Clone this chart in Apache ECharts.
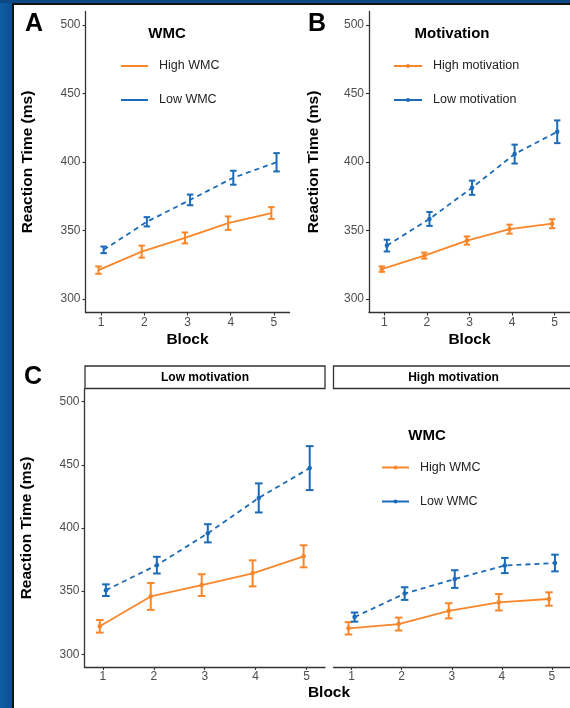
<!DOCTYPE html>
<html>
<head>
<meta charset="utf-8">
<script src="https://cdn.jsdelivr.net/npm/echarts@6/dist/echarts.min.js"></script>
<style>
html,body{margin:0;padding:0;width:570px;height:708px;overflow:hidden;}
body{background:linear-gradient(90deg,#0f5ea6 0px,#0b4f8f 12px);position:relative;}
#topband{position:absolute;left:0;top:0;width:570px;height:3px;background:#0b4a85;}
#paper{position:absolute;left:12px;top:3px;width:600px;height:720px;background:#fff;border-left:2.5px solid #111;border-top:2px solid #111;box-sizing:border-box;}
#chart{position:absolute;left:0;top:0;width:570px;height:708px;}
</style>
</head>
<body>
<div id="topband"></div>
<div id="paper"></div>
<div id="chart"></div>
<script>
// ---------- data ----------
const blocks = [1, 2, 3, 4, 5];
const yTicks = [300, 350, 400, 450, 500];

// Panel A (WMC)
const aHighWMC   = [321.0, 334.5, 344.5, 355.3, 362.7];
const aHighWMCse = [2.7, 4.4, 4.0, 4.9, 4.3];
const aLowWMC    = [335.8, 356.3, 372.3, 388.5, 399.8];
const aLowWMCse  = [2.4, 3.4, 3.9, 5.1, 6.7];

// Panel B (Motivation)
const bHighMot   = [321.7, 331.6, 342.6, 350.9, 354.9];
const bHighMotSe = [2.0, 2.2, 3.0, 3.3, 3.3];
const bLowMot    = [338.9, 358.4, 381.2, 405.8, 422.1];
const bLowMotSe  = [4.3, 5.1, 5.2, 6.9, 8.3];

// Panel C, Low motivation facet
const cLowHighWMC   = [322.2, 345.8, 354.8, 364.1, 377.6];
const cLowHighWMCse = [5.0, 10.6, 8.6, 10.3, 8.7];
const cLowLowWMC    = [350.8, 370.6, 395.8, 423.8, 447.4];
const cLowLowWMCse  = [4.6, 6.6, 7.2, 11.5, 17.4];

// Panel C, High motivation facet
const cHighHighWMC   = [320.6, 324.0, 334.5, 341.2, 343.8];
const cHighHighWMCse = [4.9, 5.1, 6.0, 6.5, 5.3];
const cHighLowWMC    = [329.5, 348.1, 359.6, 370.3, 372.3];
const cHighLowWMCse  = [3.6, 5.0, 7.0, 6.0, 6.6];

// ---------- style ----------
const ORANGE = '#F8862A';
const BLUE = '#1B6BB8';
const FONT = '"Liberation Sans", Arial, Helvetica, sans-serif';
const DODGE = 0.06;
const CAP = 0.15;

const grids = [
  {left: 85.5, top: 11.5, width: 204, height: 301},   // A
  {left: 369,  top: 11.5, width: 205, height: 301},   // B
  {left: 84.5, top: 389,  width: 240.5, height: 278}, // C low
  {left: 333.5,top: 389,  width: 240.5, height: 278}  // C high
];

function xAxisFor(gi, name) {
  return {
    type: 'value', gridIndex: gi, min: 0.64, max: 5.36,
    axisLine: {show: true, onZero: false, lineStyle: {color: '#333', width: 1.3}},
    axisTick: {show: true, length: 3, customValues: blocks, lineStyle: {color: '#333', width: 1.1}},
    axisLabel: {customValues: blocks, color: '#4d4d4d', fontSize: 12, margin: 4, fontFamily: FONT},
    splitLine: {show: false},
    name: name, nameLocation: 'middle', nameGap: 19,
    nameTextStyle: {fontWeight: 'bold', fontSize: 15.5, color: '#000', fontFamily: FONT}
  };
}
function yAxisFor(gi, show, gap) {
  return {
    type: 'value', gridIndex: gi, min: 290, max: 510, show: show,
    axisLine: {show: true, onZero: false, lineStyle: {color: '#333', width: 1.3}},
    axisTick: {show: true, length: 3, customValues: yTicks, lineStyle: {color: '#333', width: 1.1}},
    axisLabel: {customValues: yTicks, color: '#4d4d4d', fontSize: 12, margin: 5, fontFamily: FONT},
    splitLine: {show: false},
    name: show ? 'Reaction Time (ms)' : '', nameLocation: 'middle', nameGap: gap, nameRotate: 90,
    nameTextStyle: {fontWeight: 'bold', fontSize: 15.5, color: '#000', fontFamily: FONT}
  };
}

function lineSeries(name, gi, vals, color, dashed, dodge, showDots) {
  return {
    type: 'line', name: name, xAxisIndex: gi, yAxisIndex: gi,
    data: blocks.map((b, i) => [b + dodge, vals[i]]),
    symbol: showDots ? 'circle' : 'none', symbolSize: 4.5, showSymbol: showDots,
    itemStyle: {color: color},
    lineStyle: {color: color, width: 1.8, type: dashed ? [5, 4] : 'solid'},
    emphasis: {disabled: true}, animation: false, z: 3
  };
}
function errSeries(name, gi, vals, se, color, dodge) {
  return {
    type: 'custom', name: name, xAxisIndex: gi, yAxisIndex: gi,
    data: blocks.map((b, i) => [b + dodge, vals[i] - se[i], vals[i] + se[i]]),
    renderItem: function (params, api) {
      const x = api.value(0);
      const top = api.coord([x, api.value(2)]);
      const bot = api.coord([x, api.value(1)]);
      const hw = api.size([CAP, 0])[0] / 2;
      const st = {stroke: color, lineWidth: 2};
      return {type: 'group', children: [
        {type: 'line', shape: {x1: top[0], y1: top[1], x2: bot[0], y2: bot[1]}, style: st},
        {type: 'line', shape: {x1: top[0] - hw, y1: top[1], x2: top[0] + hw, y2: top[1]}, style: st},
        {type: 'line', shape: {x1: bot[0] - hw, y1: bot[1], x2: bot[0] + hw, y2: bot[1]}, style: st}
      ]};
    },
    animation: false, silent: true, z: 4
  };
}

const series = [
  // A
  lineSeries('High WMC', 0, aHighWMC, ORANGE, false, -DODGE, false),
  lineSeries('Low WMC', 0, aLowWMC, BLUE, true, DODGE, false),
  errSeries('eA1', 0, aHighWMC, aHighWMCse, ORANGE, -DODGE),
  errSeries('eA2', 0, aLowWMC, aLowWMCse, BLUE, DODGE),
  // B
  lineSeries('High motivation', 1, bHighMot, ORANGE, false, -DODGE, true),
  lineSeries('Low motivation', 1, bLowMot, BLUE, true, DODGE, true),
  errSeries('eB1', 1, bHighMot, bHighMotSe, ORANGE, -DODGE),
  errSeries('eB2', 1, bLowMot, bLowMotSe, BLUE, DODGE),
  // C high motivation facet (legend taken from these)
  lineSeries('C2|High WMC', 3, cHighHighWMC, ORANGE, false, -DODGE, true),
  lineSeries('C2|Low WMC', 3, cHighLowWMC, BLUE, true, DODGE, true),
  errSeries('eC3', 3, cHighHighWMC, cHighHighWMCse, ORANGE, -DODGE),
  errSeries('eC4', 3, cHighLowWMC, cHighLowWMCse, BLUE, DODGE),
  // C low motivation facet
  lineSeries('C1|High WMC', 2, cLowHighWMC, ORANGE, false, -DODGE, true),
  lineSeries('C1|Low WMC', 2, cLowLowWMC, BLUE, true, DODGE, true),
  errSeries('eC1', 2, cLowHighWMC, cLowHighWMCse, ORANGE, -DODGE),
  errSeries('eC2', 2, cLowLowWMC, cLowLowWMCse, BLUE, DODGE)
];

const legendText = {fontSize: 12.5, color: '#222', lineHeight: 16, fontFamily: FONT, padding: [0, 0, 0, 6]};
const legends = [
  {left: 121, top: 58, orient: 'vertical', padding: 0, itemWidth: 27, itemHeight: 2, itemGap: 18,
   icon: 'rect', selectedMode: false, data: ['High WMC', 'Low WMC'], textStyle: legendText},
  {left: 393, top: 58, orient: 'vertical', padding: 0, itemWidth: 28, itemHeight: 5, itemGap: 18,
   selectedMode: false, data: ['High motivation', 'Low motivation'], textStyle: legendText,
   lineStyle: {type: 'solid'}},
  {left: 381, top: 459.5, orient: 'vertical', padding: 0, itemWidth: 27, itemHeight: 5, itemGap: 18,
   selectedMode: false, data: ['C2|High WMC', 'C2|Low WMC'], textStyle: legendText,
   lineStyle: {type: 'solid'}, formatter: n => n.split('|')[1]}
];

function txt(x, y, s, size, bold, align) {
  return {type: 'text', x: x, y: y, silent: true, z: 10,
    style: {text: s, fontSize: size, fontWeight: bold ? 'bold' : 'normal', fill: '#000',
            fontFamily: FONT, align: align || 'center', verticalAlign: 'middle'}};
}
const graphics = [
  txt(34, 24, 'A', 25, true), txt(317, 24, 'B', 25, true), txt(33, 377, 'C', 25, true),
  txt(167, 34, 'WMC', 15, true), txt(452, 34, 'Motivation', 15, true), txt(427, 436, 'WMC', 15, true),
  {type: 'rect', shape: {x: 85, y: 366, width: 240, height: 22.5}, silent: true, z: 5,
   style: {fill: '#fff', stroke: '#333', lineWidth: 1.3}},
  {type: 'rect', shape: {x: 333.5, y: 366, width: 260, height: 22.5}, silent: true, z: 5,
   style: {fill: '#fff', stroke: '#333', lineWidth: 1.3}},
  txt(205, 377.5, 'Low motivation', 12, true), txt(453.5, 377.5, 'High motivation', 12, true),
  txt(329, 693, 'Block', 15.5, true)
];

const chart = echarts.init(document.getElementById('chart'), null, {renderer: 'canvas'});
chart.setOption({
  backgroundColor: 'transparent',
  animation: false,
  grid: grids,
  xAxis: [xAxisFor(0, 'Block'), xAxisFor(1, 'Block'), xAxisFor(2, ''), xAxisFor(3, '')],
  yAxis: [yAxisFor(0, true, 50), yAxisFor(1, true, 47), yAxisFor(2, true, 49.5), yAxisFor(3, false, 0)],
  legend: legends,
  graphic: graphics,
  series: series
});
</script>
</body>
</html>
